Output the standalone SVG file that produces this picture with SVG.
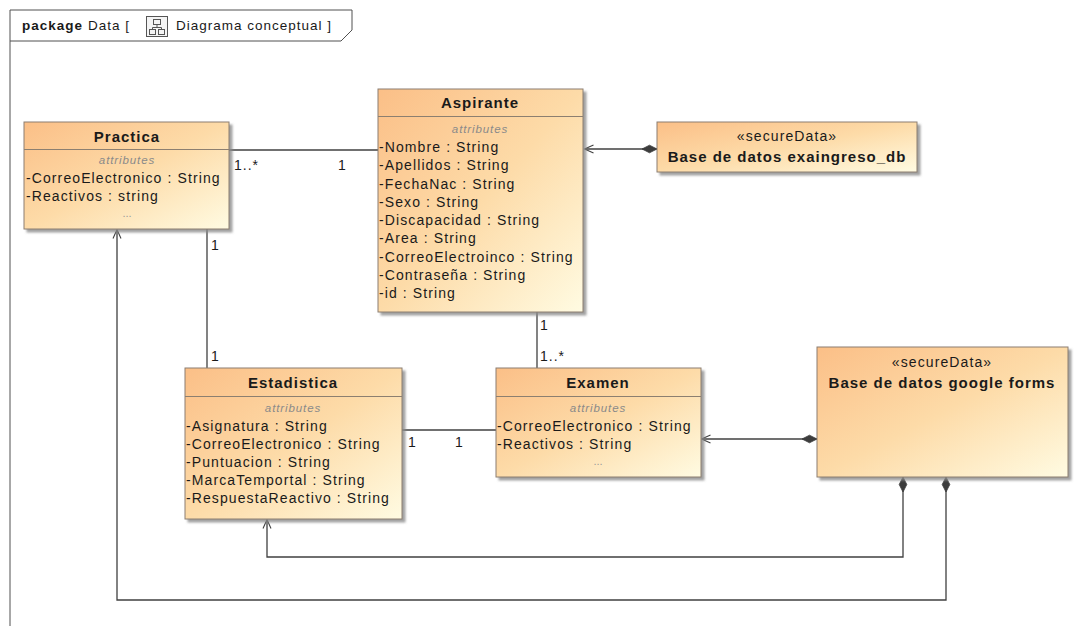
<svg xmlns="http://www.w3.org/2000/svg" width="1089" height="626" viewBox="0 0 1089 626">
  <defs>
    <linearGradient id="classFill" x1="0" y1="0" x2="1" y2="1">
      <stop offset="0" stop-color="#fbbf87"/>
      <stop offset="0.5" stop-color="#fddba8"/>
      <stop offset="1" stop-color="#fffbe2"/>
    </linearGradient>
    <filter id="shadow" x="-10%" y="-10%" width="130%" height="130%">
      <feDropShadow dx="3" dy="3" stdDeviation="1" flood-color="#8a8a8a" flood-opacity="0.8"/>
    </filter>
    <!-- open arrowhead: tip at origin, opening towards +x -->
    <path id="openArrow" d="M9,-4 L0,0 L9,4" fill="none" stroke="#404040" stroke-width="1.1"/>
    <!-- composition diamond: attached at origin, extending towards -x -->
    <path id="diamond" d="M0,0 L-7.5,-3.8 L-15,0 L-7.5,3.8 Z" fill="#3c3c3c" stroke="#3c3c3c" stroke-width="0.8"/>
  </defs>
  <style>
    text { font-family: "Liberation Sans", Arial, sans-serif; fill: #1a1a1a; }
    .box { fill: url(#classFill); stroke: #8c7f70; stroke-width: 1; filter: url(#shadow); }
    .sep { stroke: #8c7f70; stroke-width: 1; }
    .title { font-size: 15px; font-weight: bold; letter-spacing: 1px; text-anchor: middle; }
    .stereo { font-size: 14px; letter-spacing: 1.1px; text-anchor: middle; }
    .comp { font-size: 11.5px; font-style: italic; fill: #8a8a8a; letter-spacing: 0.9px; text-anchor: middle; }
    .attr { font-size: 14px; letter-spacing: 1.1px; }
    .more { font-size: 11px; fill: #9a9a9a; text-anchor: middle; }
    .mult { font-size: 14px; letter-spacing: 1px; }
    .link { fill: none; stroke: #404040; stroke-width: 1.3; }
    .frame { fill: none; stroke: #505050; stroke-width: 1; }
    .pkg { font-size: 13.5px; letter-spacing: 1px; }
  </style>

  <rect width="1089" height="626" fill="#ffffff"/>

  <!-- package frame with name tab -->
  <g id="package-frame">
    <path class="frame" d="M10,626 V10 H352 V30 L341,41 H10"/>
    <text class="pkg" x="22" y="30" style="font-weight:bold">package</text>
    <text class="pkg" x="88" y="30">Data [</text>
    <g id="diagram-icon" fill="none" stroke="#555" stroke-width="1">
      <rect x="146.5" y="16.5" width="21" height="20" fill="#f4f4f4"/>
      <rect x="153.5" y="19.5" width="7" height="5"/>
      <rect x="149.5" y="29.5" width="6" height="5"/>
      <rect x="158.5" y="29.5" width="6" height="5"/>
      <path d="M157,24.5 V27.5 M152.5,27.5 H161.5 M152.5,27.5 V29.5 M161.5,27.5 V29.5"/>
    </g>
    <text class="pkg" x="176" y="30">Diagrama conceptual ]</text>
  </g>

  <!-- associations and compositions -->
  <g id="connectors">
    <path class="link" d="M229,150 H378"/>
    <path class="link" d="M207,229 V368"/>
    <path class="link" d="M537,312 V368"/>
    <path class="link" d="M402,430 H496"/>
    <path class="link" d="M657,149 H585"/>
    <path class="link" d="M817,439 H702"/>
    <path class="link" d="M903,477 V557 H267 V520"/>
    <path class="link" d="M946,477 V600 H117 V230"/>

    <!-- ends of the compositions -->
    <use href="#diamond" transform="translate(657,149)"/>
    <use href="#openArrow" transform="translate(584.5,149)"/>
    <use href="#diamond" transform="translate(817,439)"/>
    <use href="#openArrow" transform="translate(701.5,439)"/>
    <use href="#diamond" transform="translate(903,477) rotate(-90)"/>
    <use href="#openArrow" transform="translate(267,519.5) rotate(90)"/>
    <use href="#diamond" transform="translate(946,477) rotate(-90)"/>
    <use href="#openArrow" transform="translate(117,229.5) rotate(90)"/>

    <text class="mult" x="234" y="170">1..*</text>
    <text class="mult" x="338" y="170">1</text>
    <text class="mult" x="211" y="250">1</text>
    <text class="mult" x="211" y="361">1</text>
    <text class="mult" x="540" y="330">1</text>
    <text class="mult" x="540" y="361">1..*</text>
    <text class="mult" x="408" y="447">1</text>
    <text class="mult" x="455" y="447">1</text>
  </g>

  <g id="practica">
    <rect class="box" x="24" y="122" width="205" height="107"/>
    <line class="sep" x1="24" y1="149.5" x2="229" y2="149.5"/>
    <text class="title" x="127" y="142">Practica</text>
    <text class="comp" x="127" y="164">attributes</text>
    <text class="attr" x="26" y="183">-CorreoElectronico : String</text>
    <text class="attr" x="26" y="201">-Reactivos : string</text>
    <text class="more" x="127" y="217">...</text>
  </g>

  <g id="aspirante">
    <rect class="box" x="378" y="89" width="205" height="223"/>
    <line class="sep" x1="378" y1="116.5" x2="583" y2="116.5"/>
    <text class="title" x="480" y="108">Aspirante</text>
    <text class="comp" x="480" y="133">attributes</text>
    <text class="attr" x="379" y="152">-Nombre : String</text>
    <text class="attr" x="379" y="170">-Apellidos : String</text>
    <text class="attr" x="379" y="189">-FechaNac : String</text>
    <text class="attr" x="379" y="207">-Sexo : String</text>
    <text class="attr" x="379" y="225">-Discapacidad : String</text>
    <text class="attr" x="379" y="243">-Area : String</text>
    <text class="attr" x="379" y="262">-CorreoElectroinco : String</text>
    <text class="attr" x="379" y="280">-Contraseña : String</text>
    <text class="attr" x="379" y="298">-id : String</text>
  </g>

  <g id="bd-exaingreso">
    <rect class="box" x="657" y="122" width="260" height="50"/>
    <text class="stereo" x="787" y="141">«secureData»</text>
    <text class="title" x="787" y="162">Base de datos exaingreso_db</text>
  </g>

  <g id="estadistica">
    <rect class="box" x="185" y="368" width="217" height="151"/>
    <line class="sep" x1="185" y1="396.5" x2="402" y2="396.5"/>
    <text class="title" x="293" y="388">Estadistica</text>
    <text class="comp" x="293" y="412">attributes</text>
    <text class="attr" x="186" y="431">-Asignatura : String</text>
    <text class="attr" x="186" y="449">-CorreoElectronico : String</text>
    <text class="attr" x="186" y="467">-Puntuacion : String</text>
    <text class="attr" x="186" y="485">-MarcaTemportal : String</text>
    <text class="attr" x="186" y="503">-RespuestaReactivo : String</text>
  </g>

  <g id="examen">
    <rect class="box" x="496" y="368" width="205" height="109"/>
    <line class="sep" x1="496" y1="396.5" x2="701" y2="396.5"/>
    <text class="title" x="598" y="388">Examen</text>
    <text class="comp" x="598" y="412">attributes</text>
    <text class="attr" x="497" y="431">-CorreoElectronico : String</text>
    <text class="attr" x="497" y="449">-Reactivos : String</text>
    <text class="more" x="598" y="465">...</text>
  </g>

  <g id="bd-google-forms">
    <rect class="box" x="817" y="347" width="251" height="130"/>
    <text class="stereo" x="942" y="367">«secureData»</text>
    <text class="title" x="942" y="388">Base de datos google forms</text>
  </g>
</svg>
